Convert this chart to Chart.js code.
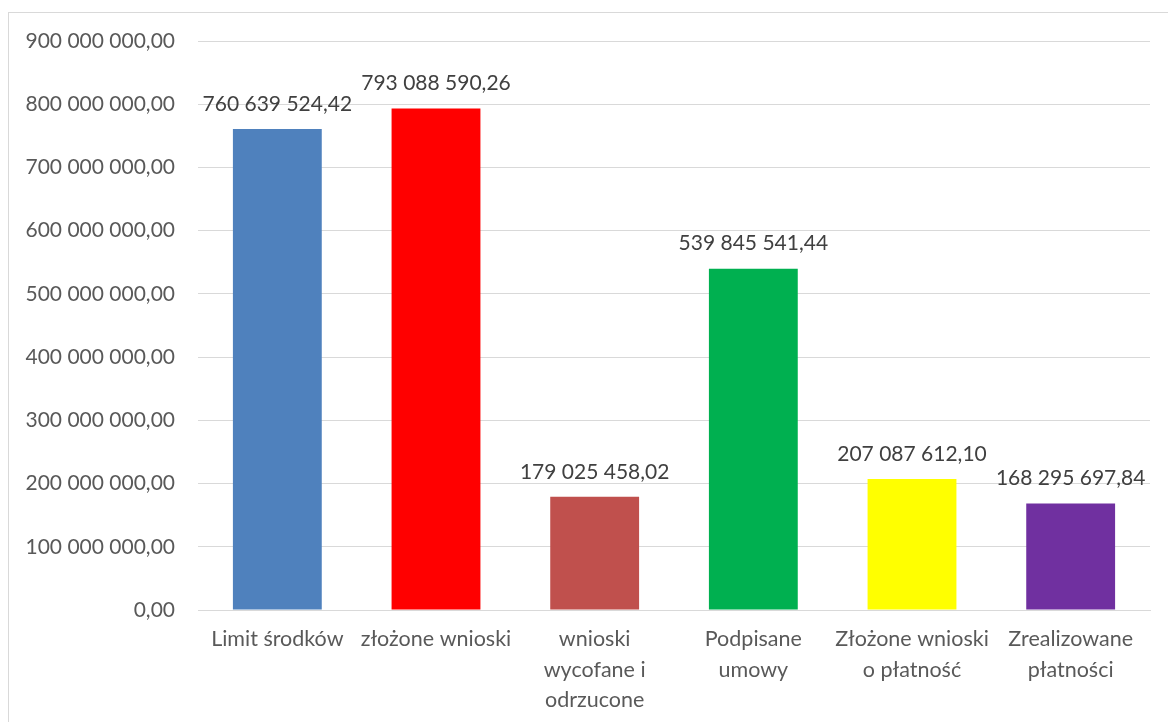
<!DOCTYPE html>
<html>
<head>
<meta charset="utf-8">
<script src="https://cdn.jsdelivr.net/npm/chart.js@4"></script>
<style>
  html, body { margin: 0; padding: 0; background: #fff; }
  #wrap { position: relative; width: 1168px; height: 722px; overflow: hidden; }
  #frame { position: absolute; left: 8px; top: 12px; width: 1200px; height: 800px; border-left: 1px solid #d9d9d9; border-top: 1px solid #d9d9d9; }
  canvas { position: absolute; left: 0; top: 0; }
</style>
</head>
<body>
<div id="wrap">
  <div id="frame"></div>
  <canvas id="c" width="1168" height="722"></canvas>
</div>
<script>
const categories = [
  "Limit środków",
  "złożone wnioski",
  ["wnioski", "wycofane i", "odrzucone"],
  ["Podpisane", "umowy"],
  ["Złożone wnioski", "o płatność"],
  ["Zrealizowane", "płatności"]
];
const values = [760639524.42, 793088590.26, 179025458.02, 539845541.44, 207087612.10, 168295697.84];
const barColors = ["#4F81BD", "#FF0000", "#C0504D", "#00B050", "#FFFF00", "#7030A0"];
const yMin = 0, yMax = 900000000, yStep = 100000000;

function fmt(v) {
  const parts = v.toFixed(2).split(".");
  const intPart = parts[0].replace(/\B(?=(\d{3})+(?!\d))/g, " ");
  return intPart + "," + parts[1];
}

const FONT = "Lato, 'Open Sans', sans-serif";

const labelPlugin = {
  id: "barLabels",
  afterDatasetsDraw(chart) {
    const ctx = chart.ctx;
    const meta = chart.getDatasetMeta(0);
    ctx.save();
    ctx.font = "21px " + FONT;
    ctx.fillStyle = "#404040";
    ctx.textAlign = "center";
    ctx.textBaseline = "middle";
    meta.data.forEach((bar, i) => {
      ctx.fillText(fmt(values[i]), bar.x, bar.y - 25);
    });
    ctx.restore();
  }
};

new Chart(document.getElementById("c"), {
  type: "bar",
  data: {
    labels: categories,
    datasets: [{
      data: values,
      backgroundColor: barColors,
      borderWidth: 0,
      categoryPercentage: 0.56,
      barPercentage: 1.0
    }]
  },
  options: {
    responsive: false,
    animation: false,
    layout: { padding: { top: 41, right: 18, left: 0, bottom: 0 } },
    plugins: { legend: { display: false }, tooltip: { enabled: false } },
    scales: {
      x: {
        grid: { display: false, drawTicks: false },
        border: { display: true, color: "#d9d9d9", width: 1 },
        ticks: { color: "#595959", font: { family: FONT, size: 21.5, lineHeight: 1.42 }, padding: 14, maxRotation: 0, autoSkip: false },
        afterFit(s) { s.height = 112; }
      },
      y: {
        min: yMin, max: yMax,
        grid: { color: "#d9d9d9", drawTicks: false, lineWidth: 1 },
        border: { display: false },
        ticks: { stepSize: yStep, color: "#595959", font: { family: FONT, size: 21 }, padding: 23, callback: v => fmt(v) },
        afterFit(s) { s.width = 198; }
      }
    }
  },
  plugins: [labelPlugin]
});
</script>
</body>
</html>
